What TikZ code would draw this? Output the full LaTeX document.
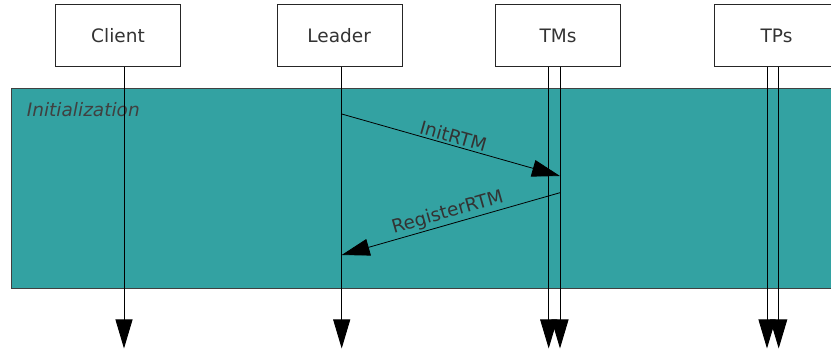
\documentclass[tikz,border=0pt]{standalone}
\usepackage{fontspec}
\setmainfont{DejaVu Sans}
\usetikzlibrary{arrows.meta}
\definecolor{phaseteal}{RGB}{51,162,162}
\begin{document}
\begin{tikzpicture}[x=1pt,y=-1pt]
        \tikzstyle{actor}=[draw=black!85,thin,fill=white,minimum width=125pt,minimum height=62pt,inner sep=0pt,font=\fontsize{18.5}{20}\selectfont,text=black!80]
        \tikzstyle{lifeline}=[draw=black,line width=0.9pt,-{Triangle[length=29pt,width=17pt]}]
        \tikzstyle{msg}=[draw=black,line width=0.8pt,-{Triangle[length=28pt,width=17pt]}]
        \tikzstyle{msglabel}=[font=\fontsize{18.5}{20}\selectfont,text=black!80,inner sep=2pt]
       \useasboundingbox (0,0) rectangle (831,352);
       % actors
         \node [actor] (client) at (118,35.7) {Client};
         \node [actor] (leader) at (339.2,35.7) {Leader};
         \node [actor] (tms) at (558,35.7) {TMs};
         \node [actor] (tps) at (776.5,35.7) {TPs};
       % phase
         \node [draw=black!75,thin,fill=phaseteal,anchor=north west,minimum width=830pt,minimum height=200pt,inner sep=0pt] (init) at (11.3,88.3) {};
         \node [anchor=base west,font=\fontsize{18.5}{20}\selectfont\itshape,text=black!75,inner sep=0pt] (initlabel) at (26.7,117) {Initialization};
       % lifelines
         \coordinate (c0) at (124,66.7);    \coordinate (c1) at (124,348.5);
         \coordinate (l0) at (341.7,66.7);  \coordinate (l1) at (341.7,348.5);
         \coordinate (ma0) at (548.7,66.7); \coordinate (ma1) at (548.7,348.5);
         \coordinate (mb0) at (560,66.7);   \coordinate (mb1) at (560,348.5);
         \coordinate (pa0) at (767,66.7);   \coordinate (pa1) at (767,348.5);
         \coordinate (pb0) at (778.7,66.7); \coordinate (pb1) at (778.7,348.5);
         \draw[lifeline] (c0) -- (c1);
         \draw[lifeline] (l0) -- (l1);
         \draw[lifeline] (ma0) -- (ma1);
         \draw[lifeline] (mb0) -- (mb1);
         \draw[lifeline] (pa0) -- (pa1);
         \draw[lifeline] (pb0) -- (pb1);
       % messages
         \coordinate (send1) at (341.7,114);  \coordinate (recv1) at (560,176);
         \coordinate (send2) at (560,192.7);  \coordinate (recv2) at (341.7,255);
         \draw[msg] (send1) -- node[msglabel,sloped,above] {InitRTM} (recv1);
         \draw[msg] (send2) -- node[msglabel,sloped,above] {RegisterRTM} (recv2);
      \end{tikzpicture}
\end{document}
